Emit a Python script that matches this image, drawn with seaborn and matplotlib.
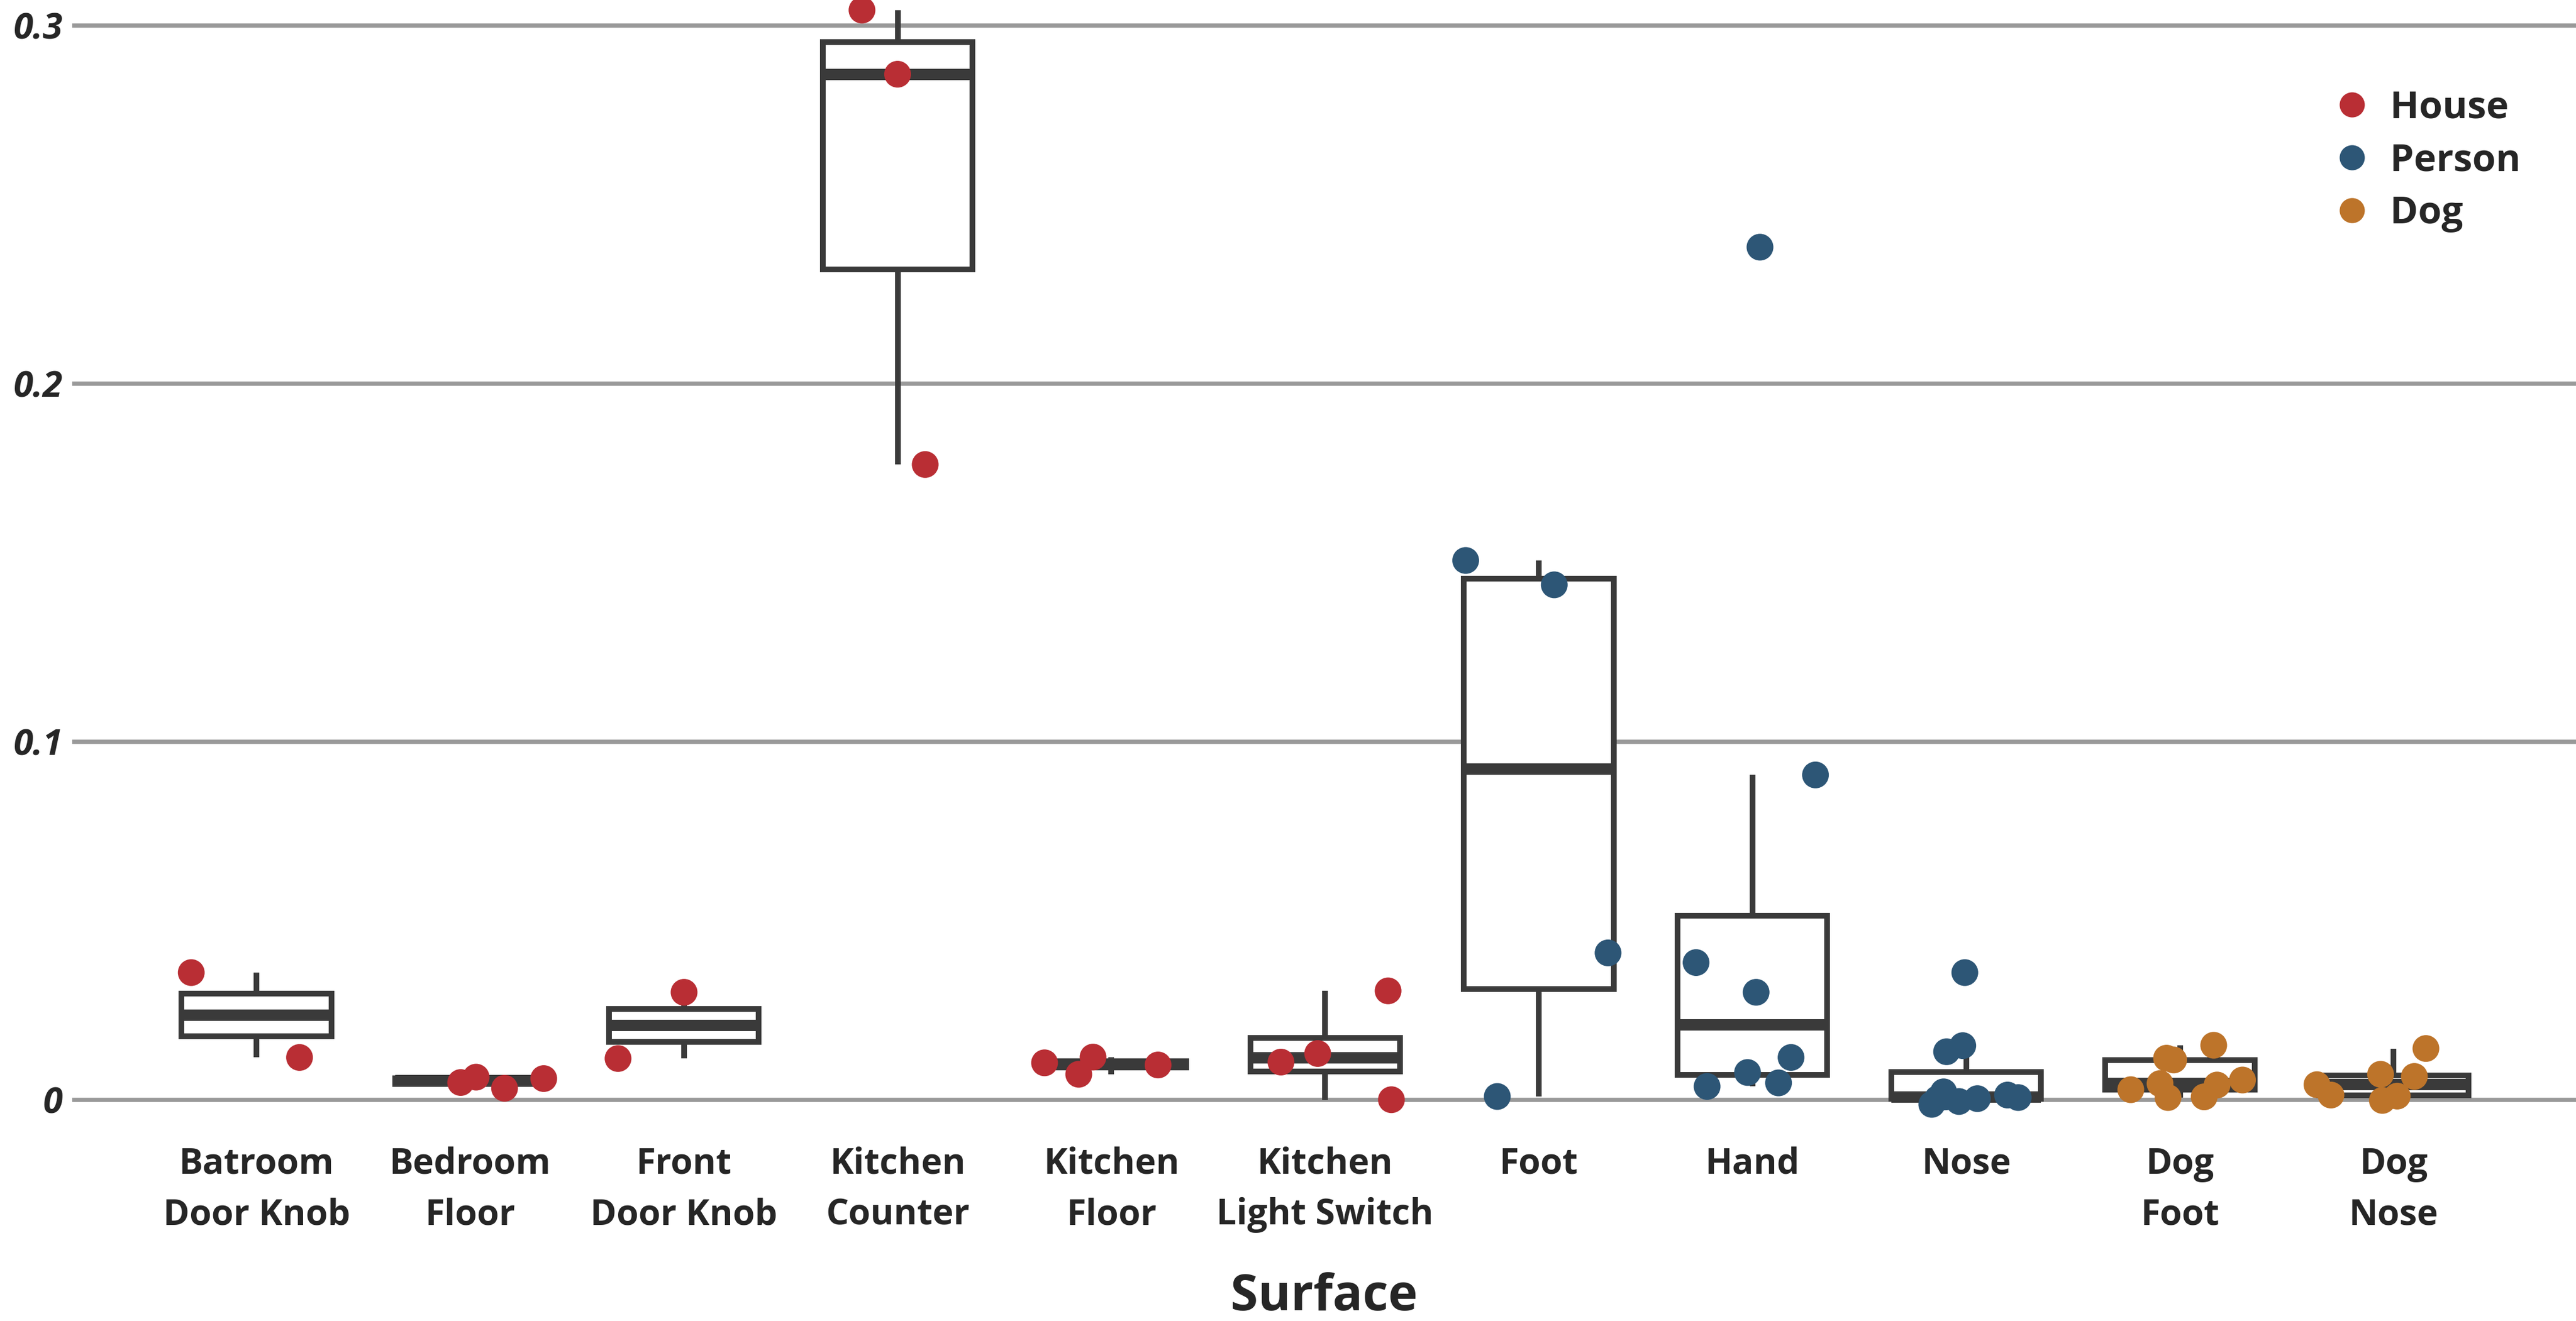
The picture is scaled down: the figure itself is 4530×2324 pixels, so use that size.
import numpy as np
import pandas as pd
import matplotlib
matplotlib.use("Agg")
import matplotlib.pyplot as plt
import seaborn as sns
from matplotlib.lines import Line2D

# ---- data -----------------------------------------------------------------
surfaces = ["Batroom\nDoor Knob", "Bedroom\nFloor", "Front\nDoor Knob",
            "Kitchen\nCounter", "Kitchen\nFloor", "Kitchen\nLight Switch",
            "Foot", "Hand", "Nose", "Dog\nFoot", "Dog\nNose"]
sources = ["House"] * 6 + ["Person"] * 3 + ["Dog"] * 2
source_order = ["House", "Person", "Dog"]

batroom_door_knob = [0.0355, 0.0118]
bedroom_floor = [0.0048, 0.0032, 0.0059, 0.0063]
front_door_knob = [0.0300, 0.0115]
kitchen_counter = [0.3043, 0.2864, 0.1774]
kitchen_floor = [0.0097, 0.0119, 0.0103, 0.0071]
kitchen_light_switch = [0.0304, 0.0105, 0.0129, 0.0]
foot = [0.1506, 0.1438, 0.0410, 0.0009]
hand = [0.2381, 0.0907, 0.0383, 0.0300, 0.0118, 0.0047, 0.0076, 0.0037]
nose = [0.0355, 0.0134, 0.0151, 0.0008, 0.0006, 0.0013, 0.0003, 0.0003,
        -0.0013, -0.0005, 0.0022]
dog_foot = [0.0008, 0.0045, 0.0111, 0.0152, 0.0116, 0.0055, 0.0028, 0.0041,
            0.0006]
dog_nose = [-0.0002, 0.0065, 0.0010, 0.0071, 0.0042, 0.0013, 0.0143]

values_by_surface = [batroom_door_knob, bedroom_floor, front_door_knob,
                     kitchen_counter, kitchen_floor, kitchen_light_switch,
                     foot, hand, nose, dog_foot, dog_nose]

y_ticks = [0, 0.1, 0.2, 0.3]
y_tick_labels = ["0", "0.1", "0.2", "0.3"]

palette = {"House": "#B92E34", "Person": "#2D5676", "Dog": "#BD742A"}
box_color = "#3A3A3A"

rows = [(s, src, v)
        for s, src, vals in zip(surfaces, sources, values_by_surface)
        for v in vals]
df = pd.DataFrame(rows, columns=["Surface", "Source", "Value"])

# ---- style ----------------------------------------------------------------
sns.set_style("white")
plt.rcParams["font.family"] = ["Open Sans", "DejaVu Sans"]

W, H = 4530, 2324
fig = plt.figure(figsize=(W / 300, H / 300), dpi=300)
ax_bottom_px = 1975
ax = fig.add_axes([127 / W, 1 - ax_bottom_px / H, 1 - 127 / W, ax_bottom_px / H])

sns.boxplot(data=df, x="Surface", y="Value", order=surfaces,
            color="white", linecolor=box_color, linewidth=2.4, width=0.7,
            showcaps=False, showfliers=False,
            medianprops=dict(linewidth=4.8, solid_capstyle="butt"),
            ax=ax)

np.random.seed(7)
sns.stripplot(data=df, x="Surface", y="Value", order=surfaces,
              hue="Source", hue_order=source_order, palette=palette,
              jitter=0.36, size=11.3, linewidth=0, zorder=3,
              legend=False, ax=ax)

ax.set_xlim(-0.862, 10.853)
ax.set_ylim(-0.0064, 0.30713)
ax.set_yticks(y_ticks)
ax.set_yticklabels(y_tick_labels)
ax.grid(axis="y", color="#999999", linewidth=1.8)
ax.grid(axis="x", visible=False)
ax.set_axisbelow(True)
for s in ax.spines.values():
    s.set_visible(False)

ax.tick_params(axis="both", length=0)
ax.tick_params(axis="x", pad=10, labelsize=15)
ax.tick_params(axis="y", pad=4, labelsize=15)
for lbl in ax.get_xticklabels():
    lbl.set_fontweight("bold")
    lbl.set_linespacing(1.55)
for lbl in ax.get_yticklabels():
    lbl.set_fontweight("bold")
    lbl.set_fontstyle("italic")

ax.set_ylabel("")
ax.set_xlabel("Surface", fontsize=21, fontweight="bold", labelpad=16.5)

handles = [Line2D([], [], marker="o", linestyle="", markersize=10.6,
                  markerfacecolor=palette[k], markeredgewidth=0)
           for k in source_order]
ax.legend(handles, source_order, loc="upper left",
          bbox_to_anchor=(0.903, 0.921), frameon=False,
          prop=dict(weight="bold", size=16),
          handlelength=1.0, handletextpad=0.5, labelspacing=0.39,
          borderpad=0, borderaxespad=0)

fig.savefig("out.png", dpi=300, facecolor="white")
